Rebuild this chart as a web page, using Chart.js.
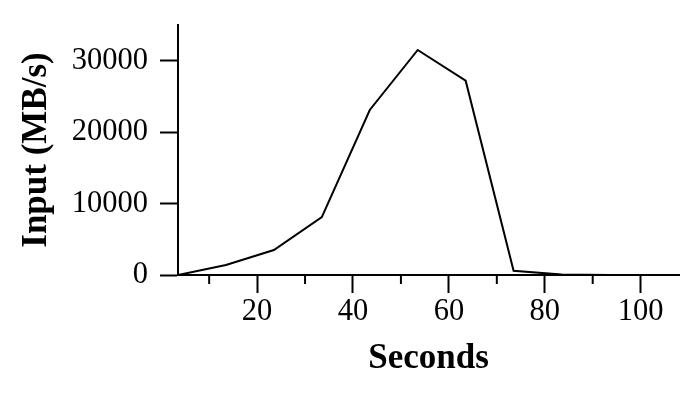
<!DOCTYPE html>
<html>
<head>
<meta charset="utf-8">
<script src="https://cdn.jsdelivr.net/npm/chart.js@4/dist/chart.umd.min.js"></script>
<style>
  html, body { margin: 0; padding: 0; background: #fff; }
  #wrap { width: 692px; height: 394px; }
</style>
</head>
<body>
<div id="wrap"><canvas id="inputChart"></canvas></div>
<script>
// seconds / MB/s
var seconds = [3.5, 13.5, 23.5, 33.5, 43.5, 53.5, 63.5, 73.5, 83.5, 93.5, 103.5];
var inputRate = [0, 1400, 3500, 8100, 23100, 31500, 27200, 600, 60, 10, 0];

var xMajorTicks = [20, 40, 60, 80, 100];
var xMinorTicks = [10, 30, 50, 70, 90];
var yTicks = [0, 10000, 20000, 30000];

Chart.defaults.font.family = "'Liberation Serif', 'Times New Roman', serif";
Chart.defaults.color = '#000';

var points = [];
for (let i = 0; i < seconds.length; i++) {
    points.push({ x: seconds[i], y: inputRate[i] });
}

// shorter ticks between the labelled ones
var minorTicks = {
    id: 'minorTicks',
    afterDraw(chart) {
        var sx = chart.scales.x;
        var c = chart.ctx;
        c.save();
        c.strokeStyle = '#000';
        c.lineWidth = 2;
        xMinorTicks.forEach(function (v) {
            var px = sx.getPixelForValue(v);
            c.beginPath();
            c.moveTo(px, sx.top);
            c.lineTo(px, sx.top + 9);
            c.stroke();
        });
        c.restore();
    }
};

new Chart(document.getElementById('inputChart'), {
    type: 'line',
    data: {
        datasets: [{
            data: points,
            borderColor: '#000',
            borderWidth: 2,
            pointRadius: 0,
            tension: 0,
            fill: false
        }]
    },
    options: {
        responsive: true,
        maintainAspectRatio: false,
        animation: false,
        layout: { padding: { top: 25, right: 13, left: 0, bottom: 0 } },
        plugins: { legend: { display: false }, tooltip: { enabled: false } },
        scales: {
            x: {
                type: 'linear',
                min: 3.5,
                max: 108,
                afterBuildTicks: function (s) { s.ticks = xMajorTicks.map(v => ({ value: v })); },
                afterFit: function (s) { s.height = 119; s.paddingLeft = 0; s.paddingRight = 0; },
                border: { color: '#000', width: 2 },
                grid: { drawOnChartArea: false, tickLength: 18, tickColor: '#000', tickWidth: 2 },
                ticks: { font: { size: 30.5 }, padding: 1, maxRotation: 0 },
                title: { display: true, text: 'Seconds', font: { size: 35, weight: 'bold' }, padding: { top: 0, bottom: 14 } }
            },
            y: {
                min: 0,
                max: 35000,
                afterBuildTicks: function (s) { s.ticks = yTicks.map(v => ({ value: v })); },
                afterFit: function (s) { s.width = 178; s.paddingTop = 0; s.paddingBottom = 0; },
                border: { color: '#000', width: 2 },
                grid: { drawOnChartArea: false, tickLength: 18, tickColor: '#000', tickWidth: 2 },
                ticks: { font: { size: 30.5 }, padding: 12, callback: v => String(v) },
                title: { display: true, text: 'Input (MB/s)', font: { size: 35, weight: 'bold' }, padding: { top: 16, bottom: 0 } }
            }
        }
    },
    plugins: [minorTicks]
});
</script>
</body>
</html>
